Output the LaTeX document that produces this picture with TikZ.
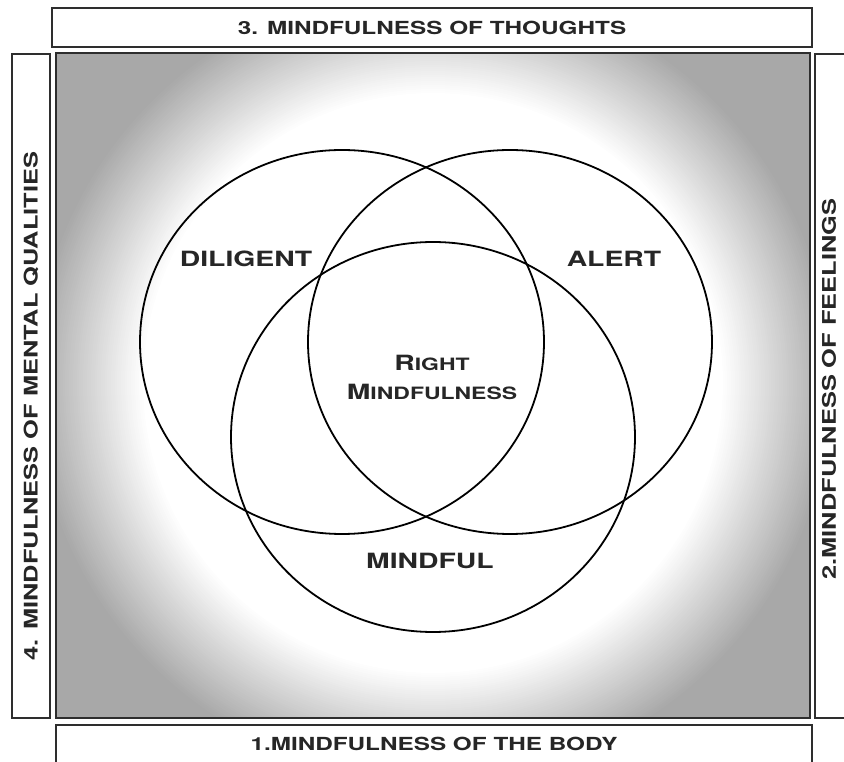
\documentclass[tikz,border=0pt]{standalone}
\usepackage{fontspec}
\usepackage{tikz}
\newfontfamily\capsfont{TeX Gyre Heros}[FakeStretch=1.35]
\definecolor{shadegray}{gray}{0.66}
\definecolor{framegray}{gray}{0.18}

\begin{document}
\begin{tikzpicture}[x=1pt,y=1pt,
  frame/.style={draw=framegray,line width=1.6pt,fill=white,inner sep=0pt},
  venn/.style={draw=black,line width=1.8pt},
  side/.style={font=\capsfont\bfseries\fontsize{18}{20}\selectfont,text=black!85},
  word/.style={font=\capsfont\bfseries\fontsize{21}{24}\selectfont,text=black!85,align=center}]
\useasboundingbox (0,0) rectangle (844,761);
\clip (0,0) rectangle (844,761);
% shaded field: gray fading to a white glow
\fill[shadegray] (56,43) rectangle (810,708);
\begin{scope}
  \clip (56,43) rectangle (810,708);
  \foreach \i in {0,...,55} {
    \pgfmathsetmacro\rad{400-2*\i}
    \pgfmathsetmacro\pct{100-100*\i/55}
    \fill[shadegray!\pct!white] (433,378) circle (\rad);
  }
  \fill[white] (433,378) circle (290);
\end{scope}
\draw[framegray,line width=1.6pt] (56,43) rectangle (810,708);
% the four frames
\node[frame,side,minimum width=760,minimum height=39] (thoughts) at (432,733.5) {3. MINDFULNESS OF THOUGHTS};
\node[frame,side,minimum width=756,minimum height=38] (body) at (434,17) {1.MINDFULNESS OF THE BODY};
\node[frame,minimum width=38,minimum height=664] (qualbox) at (31,375) {};
\node[side,rotate=90,font=\capsfont\bfseries\fontsize{18.8}{20}\selectfont] (qualities) at (31,355) {4. MINDFULNESS OF MENTAL QUALITIES};
\node[frame,minimum width=40,minimum height=664] (feelbox) at (835,375) {};
\node[side,rotate=90,font=\capsfont\bfseries\fontsize{18.8}{20}\selectfont] (feelings) at (829,372) {2.MINDFULNESS OF FEELINGS};
% three circles
\draw[venn] (342,419) ellipse [x radius=202pt,y radius=192pt];
\draw[venn] (510,419) ellipse [x radius=202pt,y radius=192pt];
\draw[venn] (433,324) ellipse [x radius=202pt,y radius=195pt];
% labels
\node[word] (diligent) at (246,502) {DILIGENT};
\node[word] (alert) at (614,502) {ALERT};
\node[word] (mindful) at (430,200) {MINDFUL};
\node[word] (right) at (432,398) {R\fontsize{17}{20}\selectfont IGHT};
\node[word] (rightm) at (432,369) {M\fontsize{17}{20}\selectfont INDFULNESS};
\end{tikzpicture}
\end{document}
